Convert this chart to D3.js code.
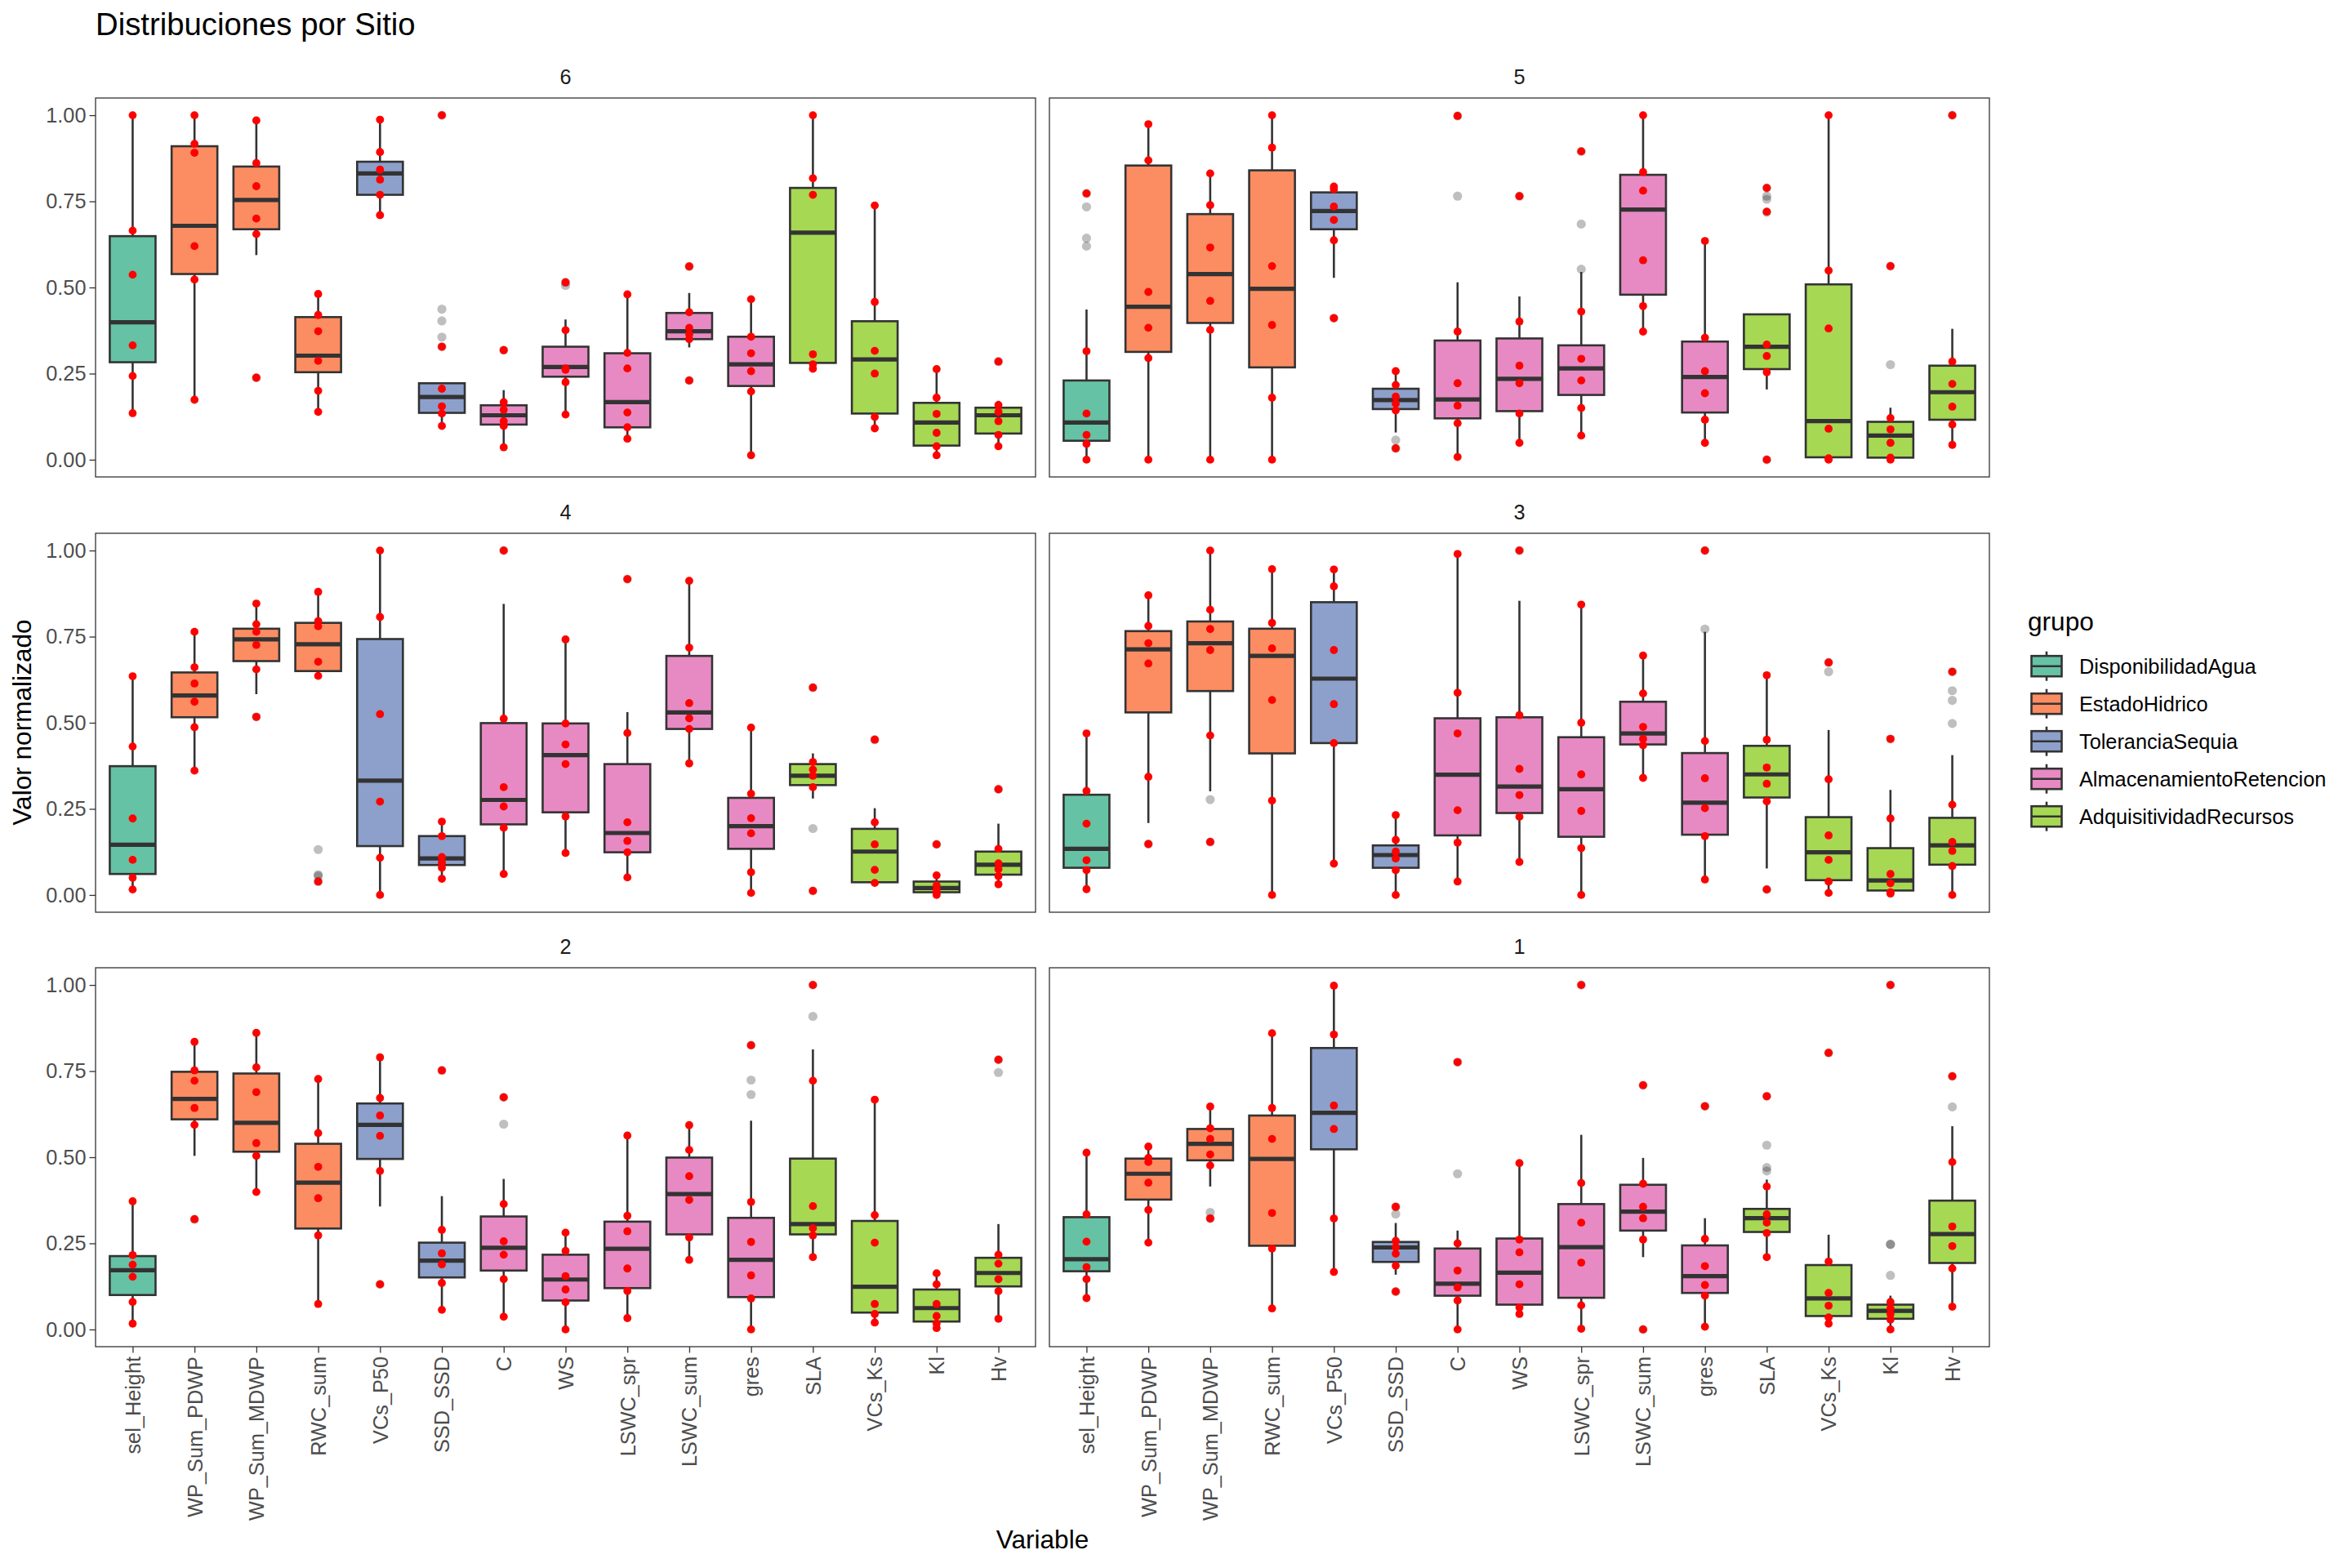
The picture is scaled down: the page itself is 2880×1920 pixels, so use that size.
<!DOCTYPE html>
<html>
<head>
<meta charset="utf-8">
<script src="https://cdn.jsdelivr.net/npm/d3@7"></script>
<style>
  body { margin: 0; background: #fff; }
  svg text { font-family: "Liberation Sans", Arial, Helvetica, sans-serif; }
</style>
</head>
<body>
<script>
// Boxplots by site (facets 6..1), 15 variables coloured by group, red points on top.

const variables = ["sel_Height", "WP_Sum_PDWP", "WP_Sum_MDWP", "RWC_sum", "VCs_P50", "SSD_SSD",
  "C", "WS", "LSWC_spr", "LSWC_sum", "gres", "SLA", "VCs_Ks", "Kl", "Hv"]
const grupos = ["DisponibilidadAgua", "EstadoHidrico", "ToleranciaSequia",
  "AlmacenamientoRetencion", "AdquisitividadRecursos"]
// group index of each variable
const varGroup = [0, 1, 1, 1, 2, 2, 3, 3, 3, 3, 3, 4, 4, 4, 4]
const groupColors = ["#66C2A5", "#FC8D62", "#8DA0CB", "#E78AC3", "#A6D854"]
const sitios = ["6", "5", "4", "3", "2", "1"]
const yTicks = [0, 0.25, 0.5, 0.75, 1]

// box stats per variable: [lower whisker, q1, median, q3, upper whisker]
const box6 = [[0.135, 0.283, 0.399, 0.649, 1.00], [0.174, 0.539, 0.679, 0.910, 1.00], [0.594, 0.669, 0.754, 0.851, 0.985],
  [0.139, 0.254, 0.302, 0.414, 0.481], [0.710, 0.769, 0.831, 0.865, 0.987], [0.098, 0.136, 0.182, 0.222, 0.222],
  [0.036, 0.102, 0.129, 0.158, 0.202], [0.131, 0.241, 0.269, 0.328, 0.407], [0.061, 0.094, 0.167, 0.309, 0.480],
  [0.326, 0.350, 0.373, 0.426, 0.484], [0.013, 0.214, 0.277, 0.357, 0.466], [0.261, 0.281, 0.659, 0.789, 1.00],
  [0.091, 0.134, 0.291, 0.402, 0.738], [0.013, 0.041, 0.108, 0.165, 0.263], [0.039, 0.076, 0.129, 0.151, 0.171]]
const out6 = [[], [], [0.238], [], [], [1.0, 0.437, 0.403, 0.356, 0.328], [0.318], [0.515, 0.506], [],
  [0.561, 0.230], [], [], [], [], [0.285]]
const pts6 = [[1.00, 0.665, 0.537, 0.332, 0.243, 0.135], [1.00, 0.917, 0.891, 0.620, 0.523, 0.174],
  [0.985, 0.861, 0.794, 0.700, 0.655, 0.238], [0.481, 0.420, 0.373, 0.287, 0.200, 0.139],
  [0.987, 0.893, 0.842, 0.813, 0.769, 0.710], [1.00, 0.328, 0.206, 0.155, 0.134, 0.098],
  [0.318, 0.167, 0.145, 0.112, 0.098, 0.036], [0.515, 0.376, 0.265, 0.261, 0.225, 0.131],
  [0.480, 0.310, 0.265, 0.137, 0.094, 0.061], [0.561, 0.428, 0.383, 0.364, 0.350, 0.230],
  [0.466, 0.357, 0.309, 0.257, 0.198, 0.013], [1.00, 0.817, 0.769, 0.306, 0.277, 0.264],
  [0.738, 0.458, 0.316, 0.250, 0.124, 0.091], [0.263, 0.180, 0.133, 0.078, 0.039, 0.013],
  [0.285, 0.159, 0.139, 0.112, 0.072, 0.039]]

const box5 = [[0.0, 0.055, 0.108, 0.230, 0.436], [0.0, 0.313, 0.444, 0.854, 0.974], [0.0, 0.397, 0.539, 0.713, 0.831],
  [0.0, 0.268, 0.496, 0.840, 1.00], [0.528, 0.669, 0.722, 0.776, 0.793], [0.079, 0.147, 0.173, 0.206, 0.257],
  [0.008, 0.120, 0.175, 0.346, 0.515], [0.049, 0.141, 0.235, 0.352, 0.474], [0.070, 0.188, 0.265, 0.332, 0.545],
  [0.372, 0.479, 0.726, 0.827, 1.00], [0.049, 0.137, 0.240, 0.343, 0.635], [0.204, 0.263, 0.328, 0.422, 0.422],
  [0.0, 0.007, 0.112, 0.509, 1.00], [0.0, 0.006, 0.070, 0.110, 0.151], [0.043, 0.116, 0.196, 0.273, 0.380]]
const out5 = [[0.773, 0.734, 0.643, 0.620], [], [], [], [0.411], [0.057, 0.033], [0.998, 0.765], [0.765],
  [0.895, 0.684, 0.553], [], [], [0.789, 0.765, 0.756, 0.718, 0.0], [], [0.562, 0.276], [1.0]]
const pts5 = [[0.773, 0.315, 0.134, 0.072, 0.046, 0.0], [0.974, 0.869, 0.487, 0.383, 0.295, 0.0],
  [0.831, 0.739, 0.616, 0.461, 0.377, 0.0], [1.00, 0.906, 0.562, 0.391, 0.180, 0.0],
  [0.793, 0.785, 0.735, 0.696, 0.637, 0.411], [0.257, 0.217, 0.183, 0.163, 0.143, 0.033],
  [0.998, 0.372, 0.222, 0.157, 0.106, 0.008], [0.765, 0.401, 0.273, 0.222, 0.134, 0.049],
  [0.895, 0.430, 0.293, 0.230, 0.150, 0.070], [1.00, 0.835, 0.781, 0.579, 0.446, 0.372],
  [0.635, 0.354, 0.257, 0.193, 0.116, 0.049], [0.789, 0.720, 0.334, 0.301, 0.254, 0.0],
  [1.00, 0.549, 0.381, 0.090, 0.004, 0.0], [0.562, 0.121, 0.088, 0.049, 0.006, 0.0],
  [1.00, 0.285, 0.220, 0.154, 0.102, 0.043]]

const box4 = [[0.016, 0.061, 0.146, 0.374, 0.635], [0.361, 0.516, 0.579, 0.646, 0.764], [0.583, 0.679, 0.742, 0.773, 0.846],
  [0.636, 0.650, 0.728, 0.790, 0.880], [0.0, 0.142, 0.332, 0.743, 1.00], [0.047, 0.087, 0.106, 0.171, 0.213],
  [0.061, 0.205, 0.276, 0.499, 0.845], [0.122, 0.240, 0.406, 0.498, 0.742], [0.051, 0.124, 0.180, 0.380, 0.531],
  [0.382, 0.482, 0.530, 0.694, 0.912], [0.006, 0.134, 0.200, 0.282, 0.486], [0.280, 0.319, 0.346, 0.380, 0.411],
  [0.033, 0.037, 0.126, 0.192, 0.252], [0.0, 0.008, 0.020, 0.039, 0.067], [0.031, 0.059, 0.088, 0.126, 0.207]]
const out4 = [[], [], [0.517], [0.132, 0.059, 0.055, 0.039], [], [], [1.0], [], [0.917], [], [],
  [0.602, 0.193, 0.012], [0.451], [0.147], [0.307]]
const pts4 = [[0.635, 0.431, 0.222, 0.102, 0.050, 0.016], [0.764, 0.661, 0.614, 0.561, 0.487, 0.361],
  [0.846, 0.786, 0.764, 0.726, 0.655, 0.517], [0.880, 0.795, 0.780, 0.677, 0.636, 0.039],
  [1.00, 0.807, 0.525, 0.271, 0.108, 0.0], [0.213, 0.171, 0.110, 0.094, 0.079, 0.047],
  [1.00, 0.512, 0.313, 0.257, 0.195, 0.061], [0.742, 0.498, 0.437, 0.380, 0.228, 0.122],
  [0.917, 0.470, 0.211, 0.157, 0.124, 0.051], [0.912, 0.718, 0.557, 0.513, 0.482, 0.382],
  [0.486, 0.294, 0.223, 0.179, 0.066, 0.006], [0.602, 0.386, 0.364, 0.346, 0.313, 0.012],
  [0.451, 0.211, 0.147, 0.073, 0.035], [0.147, 0.057, 0.028, 0.016, 0.006, 0.0],
  [0.307, 0.134, 0.092, 0.075, 0.055, 0.031]]

const box3 = [[0.017, 0.079, 0.134, 0.291, 0.469], [0.209, 0.530, 0.713, 0.766, 0.870], [0.301, 0.592, 0.731, 0.794, 1.00],
  [0.0, 0.411, 0.694, 0.773, 0.946], [0.091, 0.441, 0.628, 0.850, 0.945], [0.0, 0.079, 0.116, 0.144, 0.232],
  [0.039, 0.173, 0.349, 0.513, 0.990], [0.096, 0.238, 0.315, 0.516, 0.854], [0.0, 0.169, 0.307, 0.458, 0.843],
  [0.340, 0.437, 0.469, 0.561, 0.695], [0.045, 0.175, 0.268, 0.412, 0.764], [0.077, 0.283, 0.350, 0.433, 0.638],
  [0.006, 0.043, 0.124, 0.226, 0.479], [0.0, 0.013, 0.042, 0.136, 0.305], [0.0, 0.088, 0.144, 0.224, 0.406]]
const out3 = [[], [0.148], [0.277, 0.154], [], [], [], [], [1.0], [], [], [1.0, 0.772], [0.016],
  [0.675, 0.648], [0.453], [0.648, 0.593, 0.565, 0.498]]
const pts3 = [[0.469, 0.302, 0.207, 0.101, 0.072, 0.017], [0.870, 0.781, 0.731, 0.672, 0.343, 0.148],
  [1.00, 0.828, 0.772, 0.711, 0.463, 0.154], [0.946, 0.790, 0.716, 0.566, 0.274, 0.0],
  [0.945, 0.896, 0.711, 0.554, 0.441, 0.091], [0.232, 0.160, 0.126, 0.106, 0.072, 0.0],
  [0.990, 0.587, 0.469, 0.246, 0.152, 0.039], [1.00, 0.522, 0.366, 0.290, 0.227, 0.096],
  [0.843, 0.500, 0.350, 0.244, 0.136, 0.0], [0.695, 0.585, 0.488, 0.453, 0.435, 0.340],
  [1.00, 0.447, 0.339, 0.252, 0.171, 0.045], [0.638, 0.451, 0.370, 0.323, 0.272, 0.016],
  [0.675, 0.336, 0.173, 0.102, 0.039, 0.006], [0.453, 0.222, 0.061, 0.034, 0.008, 0.004],
  [0.648, 0.262, 0.154, 0.128, 0.084, 0.0]]

const box2 = [[0.017, 0.100, 0.172, 0.213, 0.372], [0.504, 0.610, 0.669, 0.748, 0.835], [0.399, 0.516, 0.600, 0.743, 0.861],
  [0.074, 0.293, 0.426, 0.539, 0.727], [0.357, 0.495, 0.594, 0.656, 0.790], [0.057, 0.151, 0.200, 0.252, 0.387],
  [0.037, 0.171, 0.237, 0.328, 0.437], [0.0, 0.084, 0.145, 0.217, 0.281], [0.033, 0.120, 0.234, 0.313, 0.563],
  [0.202, 0.276, 0.393, 0.499, 0.593], [0.0, 0.094, 0.202, 0.324, 0.606], [0.210, 0.276, 0.306, 0.496, 0.813],
  [0.020, 0.049, 0.124, 0.315, 0.667], [0.004, 0.023, 0.062, 0.116, 0.163], [0.031, 0.125, 0.164, 0.208, 0.306]]
const out2 = [[], [0.320], [], [], [0.131], [0.752], [0.674, 0.596], [], [], [], [0.825, 0.724, 0.682],
  [1.0, 0.909], [], [], [0.783, 0.746]]
const pts2 = [[0.372, 0.216, 0.188, 0.153, 0.080, 0.017], [0.835, 0.752, 0.722, 0.643, 0.594, 0.320],
  [0.861, 0.761, 0.689, 0.541, 0.504, 0.399], [0.727, 0.570, 0.472, 0.381, 0.273, 0.074],
  [0.790, 0.672, 0.621, 0.562, 0.460, 0.131], [0.752, 0.289, 0.221, 0.189, 0.135, 0.057],
  [0.674, 0.364, 0.256, 0.217, 0.146, 0.037], [0.281, 0.228, 0.155, 0.116, 0.079, 0.0],
  [0.563, 0.330, 0.285, 0.177, 0.112, 0.033], [0.593, 0.521, 0.445, 0.376, 0.267, 0.202],
  [0.825, 0.370, 0.254, 0.157, 0.090, 0.0], [1.00, 0.722, 0.358, 0.294, 0.273, 0.210],
  [0.667, 0.332, 0.252, 0.074, 0.045, 0.020], [0.163, 0.131, 0.074, 0.039, 0.017, 0.004],
  [0.783, 0.217, 0.191, 0.146, 0.111, 0.031]]

const box1 = [[0.091, 0.169, 0.204, 0.326, 0.513], [0.252, 0.377, 0.452, 0.496, 0.531], [0.415, 0.491, 0.539, 0.582, 0.647],
  [0.061, 0.243, 0.495, 0.621, 0.860], [0.167, 0.523, 0.629, 0.817, 0.998], [0.159, 0.196, 0.238, 0.254, 0.309],
  [0.0, 0.098, 0.133, 0.235, 0.287], [0.045, 0.072, 0.165, 0.264, 0.483], [0.002, 0.092, 0.239, 0.364, 0.565],
  [0.210, 0.287, 0.342, 0.420, 0.498], [0.008, 0.106, 0.155, 0.244, 0.323], [0.210, 0.283, 0.323, 0.350, 0.435],
  [0.017, 0.039, 0.090, 0.187, 0.275], [0.0, 0.031, 0.054, 0.072, 0.098], [0.066, 0.193, 0.277, 0.374, 0.590]]
const out1 = [[], [], [0.340, 0.322], [], [], [0.356, 0.335, 0.110], [0.776, 0.452], [], [1.0], [0.709, 0.0],
  [0.648], [0.677, 0.535, 0.470, 0.460], [0.803], [1.0, 0.247, 0.247, 0.157], [0.735, 0.646]]
const pts1 = [[0.513, 0.334, 0.255, 0.181, 0.146, 0.091], [0.531, 0.498, 0.486, 0.426, 0.347, 0.252],
  [0.647, 0.584, 0.553, 0.508, 0.476, 0.322], [0.860, 0.643, 0.553, 0.338, 0.235, 0.061],
  [0.998, 0.856, 0.650, 0.582, 0.322, 0.167], [0.356, 0.257, 0.239, 0.220, 0.185, 0.110],
  [0.776, 0.250, 0.171, 0.122, 0.084, 0.0], [0.483, 0.261, 0.224, 0.131, 0.064, 0.045],
  [1.00, 0.425, 0.310, 0.194, 0.070, 0.002], [0.709, 0.423, 0.356, 0.323, 0.261, 0.0],
  [0.648, 0.263, 0.184, 0.129, 0.098, 0.008], [0.677, 0.415, 0.334, 0.310, 0.280, 0.210],
  [0.803, 0.197, 0.106, 0.069, 0.035, 0.017], [1.00, 0.080, 0.061, 0.045, 0.029, 0.0],
  [0.735, 0.486, 0.299, 0.242, 0.177, 0.066]]

const panelBoxes = [box6, box5, box4, box3, box2, box1]
const panelOut = [out6, out5, out4, out3, out2, out1]
const panelPts = [pts6, pts5, pts4, pts3, pts2, pts1]

// layout
const W = 2880, H = 1920
const colLeft = [117, 1285]
const rowTop = [120, 653, 1185]
const pw = 1151, ph = 464
const dark = "#333333"
const font = `"Liberation Sans", Arial, Helvetica, sans-serif`
const smallSize = 25.3, baseSize = 31.6

const svg = d3.select("body").append("svg")
  .attr("width", W).attr("height", H)
  .style("background", "#fff")

const x = d3.scalePoint().domain(variables).range([0, pw]).padding(0.6)
const boxW = x.step() * 0.74
const y = d3.scaleLinear().domain([-0.05, 1.05]).range([ph, 0])

svg.append("text")
  .attr("x", 117).attr("y", 43)
  .attr("font-size", 38.3).attr("fill", "#000")
  .text("Distribuciones por Sitio")

sitios.forEach((sitio, p) => {
  const col = p % 2, row = Math.floor(p / 2)
  const g = svg.append("g").attr("transform", `translate(${colLeft[col]},${rowTop[row]})`)

  const items = variables.map((v, i) => ({
    v, i,
    s: panelBoxes[p][i],
    out: panelOut[p][i],
    pts: panelPts[p][i],
    color: groupColors[varGroup[i]]
  }))

  // outliers
  g.append("g").selectAll("circle")
    .data(items.flatMap((d) => d.out.map((o) => ({ v: d.v, val: o }))))
    .join("circle")
    .attr("cx", (d) => x(d.v)).attr("cy", (d) => y(d.val))
    .attr("r", 5.6).attr("fill", "#000").attr("fill-opacity", 0.25)

  const bx = g.append("g").selectAll("g").data(items).join("g")
  bx.append("line")
    .attr("x1", (d) => x(d.v)).attr("x2", (d) => x(d.v))
    .attr("y1", (d) => y(d.s[0])).attr("y2", (d) => y(d.s[1]))
    .attr("stroke", dark).attr("stroke-width", 2.6)
  bx.append("line")
    .attr("x1", (d) => x(d.v)).attr("x2", (d) => x(d.v))
    .attr("y1", (d) => y(d.s[3])).attr("y2", (d) => y(d.s[4]))
    .attr("stroke", dark).attr("stroke-width", 2.6)
  bx.append("rect")
    .attr("x", (d) => x(d.v) - boxW / 2).attr("width", boxW)
    .attr("y", (d) => y(d.s[3])).attr("height", (d) => y(d.s[1]) - y(d.s[3]))
    .attr("fill", (d) => d.color).attr("stroke", dark).attr("stroke-width", 2.6)
  bx.append("line")
    .attr("x1", (d) => x(d.v) - boxW / 2).attr("x2", (d) => x(d.v) + boxW / 2)
    .attr("y1", (d) => y(d.s[2])).attr("y2", (d) => y(d.s[2]))
    .attr("stroke", dark).attr("stroke-width", 5.2)

  // red points
  g.append("g").selectAll("circle")
    .data(items.flatMap((d) => d.pts.map((o) => ({ v: d.v, val: o }))))
    .join("circle")
    .attr("cx", (d) => x(d.v)).attr("cy", (d) => y(d.val))
    .attr("r", 4.9).attr("fill", "#FF0000")

  g.append("rect")
    .attr("width", pw).attr("height", ph)
    .attr("fill", "none").attr("stroke", dark).attr("stroke-width", 1.3)

  g.append("text")
    .attr("x", pw / 2).attr("y", -17)
    .attr("text-anchor", "middle").attr("font-size", smallSize).attr("fill", "#1A1A1A")
    .text(sitio)

  if (col === 0) {
    const ya = g.append("g").call(
      d3.axisLeft(y).tickValues(yTicks).tickFormat(d3.format(".2f")).tickSize(7.5).tickPadding(4)
    )
    ya.select(".domain").remove()
    ya.selectAll(".tick line").attr("stroke", dark).attr("stroke-width", 1.3)
    ya.selectAll(".tick text").attr("font-size", smallSize).attr("fill", "#4D4D4D").attr("font-family", font)
  }

  if (row === 2) {
    const xa = g.append("g").attr("transform", `translate(0,${ph})`)
      .call(d3.axisBottom(x).tickSize(7.5).tickPadding(4))
    xa.select(".domain").remove()
    xa.selectAll(".tick line").attr("stroke", dark).attr("stroke-width", 1.3)
    xa.selectAll(".tick text")
      .attr("font-size", smallSize).attr("fill", "#4D4D4D").attr("font-family", font)
      .attr("transform", "rotate(-90)")
      .attr("text-anchor", "end")
      .attr("x", -12).attr("y", 0).attr("dy", "0.35em")
  }
})

// axis titles
svg.append("text")
  .attr("transform", `translate(38,${(rowTop[0] + rowTop[2] + ph) / 2}) rotate(-90)`)
  .attr("text-anchor", "middle").attr("font-size", baseSize).attr("fill", "#000")
  .text("Valor normalizado")

svg.append("text")
  .attr("x", (colLeft[0] + colLeft[1] + pw) / 2).attr("y", 1896)
  .attr("text-anchor", "middle").attr("font-size", baseSize).attr("fill", "#000")
  .text("Variable")

// legend
const lg = svg.append("g").attr("transform", "translate(2483,0)")
lg.append("text").attr("x", 0).attr("y", 772).attr("font-size", baseSize).attr("fill", "#000").text("grupo")
const keys = lg.selectAll("g.key").data(grupos).join("g")
  .attr("class", "key")
  .attr("transform", (d, i) => `translate(0,${815.7 + i * 46})`)
keys.append("line").attr("x1", 23).attr("x2", 23).attr("y1", -18).attr("y2", 18)
  .attr("stroke", dark).attr("stroke-width", 2.6)
keys.append("rect").attr("x", 4.5).attr("y", -12.5).attr("width", 37).attr("height", 25)
  .attr("fill", (d, i) => groupColors[i]).attr("stroke", dark).attr("stroke-width", 2.6)
keys.append("line").attr("x1", 4.5).attr("x2", 41.5).attr("y1", 0).attr("y2", 0)
  .attr("stroke", dark).attr("stroke-width", 2.6)
keys.append("text").attr("x", 63).attr("y", 0).attr("dy", "0.35em")
  .attr("font-size", smallSize).attr("fill", "#000").text((d) => d)
</script>
</body>
</html>
